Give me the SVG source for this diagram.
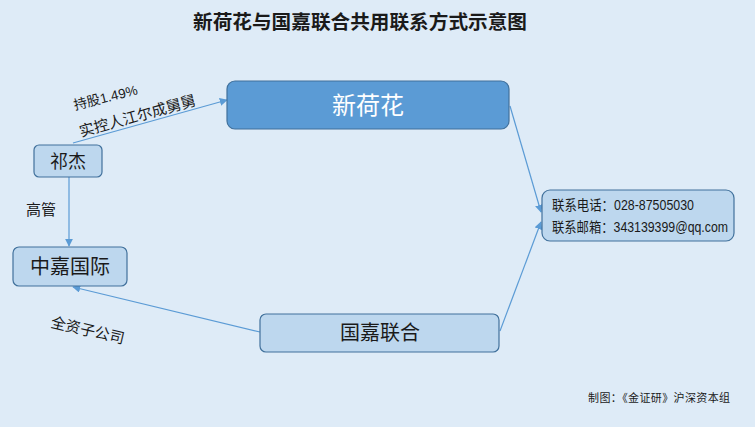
<svg xmlns="http://www.w3.org/2000/svg" width="755" height="427" viewBox="0 0 755 427">
<defs>
<style>
text{font-family:"Liberation Sans","Noto Sans CJK SC",sans-serif;fill:#1a1a1a}
.box{fill:#bdd7ee;stroke:#41719c;stroke-width:1.2}
.main{fill:#5b9bd5;stroke:#41719c;stroke-width:1.2}
.ln{stroke:#5b9bd5;stroke-width:1.2;fill:none;marker-end:url(#ah)}
.lbl{font-size:15px}
</style>
<marker id="ah" viewBox="0 0 10 10" refX="9" refY="5" markerWidth="8" markerHeight="8" markerUnits="userSpaceOnUse" orient="auto">
<path d="M0,0 L10,5 L0,10 z" fill="#5b9bd5"/>
</marker>
</defs>
<rect width="755" height="427" fill="#deebf7"/>
<text x="193" y="29" font-size="19" font-weight="bold" textLength="334" lengthAdjust="spacingAndGlyphs">新荷花与国嘉联合共用联系方式示意图</text>

<g id="connectors">
<line class="ln" x1="73" y1="143" x2="227" y2="100"/>
<line class="ln" x1="69" y1="177" x2="69" y2="246"/>
<line class="ln" x1="260" y1="332" x2="73" y2="287"/>
<line class="ln" x1="510" y1="106" x2="541" y2="212"/>
<line class="ln" x1="500" y1="331" x2="541" y2="222"/>
<text font-size="13.5" transform="translate(75,110) rotate(-14)">持股1.49%</text>
<text class="lbl" transform="translate(81,137) rotate(-15.5)">实控人江尔成舅舅</text>
<text class="lbl" font-size="14" x="26" y="215">高管</text>
<text class="lbl" transform="translate(50,327) rotate(13)">全资子公司</text>
</g>

<g id="n-xinhehua">
<rect class="main" x="227" y="81" width="282" height="48" rx="8"/>
<text x="368" y="114" font-size="24" text-anchor="middle" style="fill:#ffffff">新荷花</text>
</g>
<g id="n-qijie">
<rect class="box" x="34" y="145" width="68" height="32" rx="5"/>
<text x="68" y="168" font-size="18" text-anchor="middle">祁杰</text>
</g>
<g id="n-zhongjia">
<rect class="box" x="13" y="247" width="114" height="39" rx="6"/>
<text x="70" y="274" font-size="20" text-anchor="middle">中嘉国际</text>
</g>
<g id="n-guojia">
<rect class="box" x="260" y="314" width="239" height="38" rx="6"/>
<text x="380" y="340" font-size="20" text-anchor="middle">国嘉联合</text>
</g>
<g id="n-contact">
<rect class="box" x="542" y="190" width="192" height="51" rx="8"/>
<text x="552" y="210" font-size="14" textLength="142" lengthAdjust="spacingAndGlyphs">联系电话：028-87505030</text>
<text x="552" y="232" font-size="14" textLength="176" lengthAdjust="spacingAndGlyphs">联系邮箱：343139399@qq.com</text>
</g>
<text x="588" y="402" font-size="11" textLength="142" lengthAdjust="spacing">制图：《金证研》沪深资本组</text>
</svg>
